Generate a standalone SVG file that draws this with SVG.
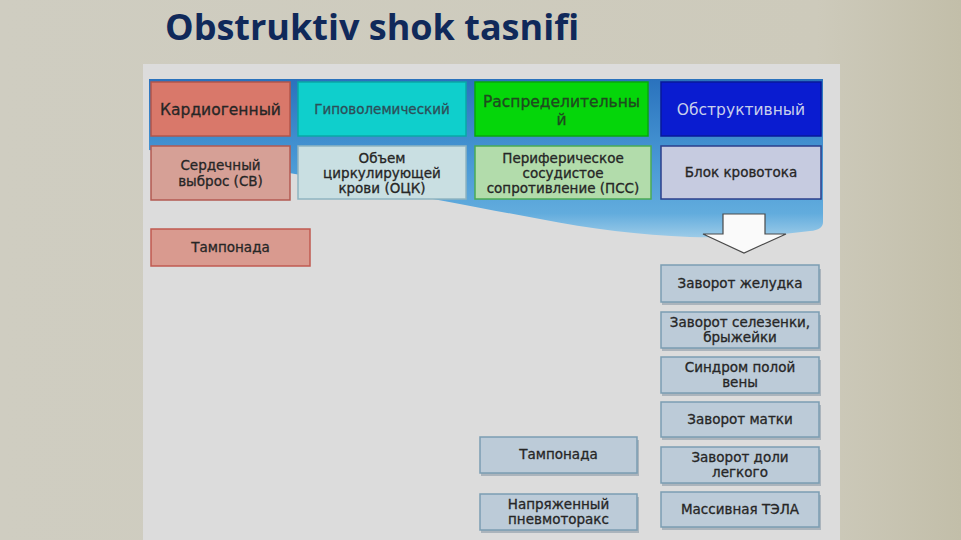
<svg xmlns="http://www.w3.org/2000/svg" width="961" height="540" viewBox="0 0 961 540">
<style>
.t{font-family:"DejaVu Sans","Liberation Sans",sans-serif;font-size:13.5px;fill:#262626;stroke:#262626;stroke-width:.3px;text-anchor:middle}
.h{font-size:15.5px}
.gb{fill:#bccbd8;stroke:#7b9db2;stroke-width:1.5}
.sh{fill:#8a9aa6;opacity:.6}
</style>
<defs>
<linearGradient id="bg" x1="0" y1="0" x2="1" y2="0">
<stop offset="0" stop-color="#cfcdc1"/><stop offset="0.85" stop-color="#cdcabb"/><stop offset="1" stop-color="#c2bea9"/>
</linearGradient>
<linearGradient id="wave" x1="0" y1="0" x2="0" y2="1">
<stop offset="0" stop-color="#2a72bd"/><stop offset="0.55" stop-color="#4a9ad6"/><stop offset="0.85" stop-color="#62acdd"/><stop offset="1" stop-color="#9ccbe8"/>
</linearGradient>
</defs>
<rect width="961" height="540" fill="url(#bg)"/>
<rect x="143" y="64" width="697" height="476" fill="#dcdcdc"/>
<text x="165" y="40" font-family="'Open Sans','Liberation Sans',sans-serif" font-weight="bold" font-size="36" fill="#10295a">Obstruktiv shok tasnifi</text>
<path d="M149,79 H823 V222 Q823,230 810,231 C770,236 730,238 690,237 C640,235 590,229 540,219 C490,210 440,200 380,189 C300,175 220,160 149,150 Z" fill="url(#wave)"/>
<g id="n-kardio"><rect x="151" y="82" width="139" height="54" fill="#d9786a" stroke="#b3564b" stroke-width="1.5"/><text class="t h" x="220.5" y="115">Кардиогенный</text></g>
<g id="n-gipo"><rect x="298" y="82" width="168" height="54" fill="#0fcfcc" stroke="#0aa8a6" stroke-width="1.5"/><text class="t" x="382" y="114" style="fill:#2d4e58;stroke:#2d4e58">Гиповолемический</text></g>
<g id="n-raspr"><rect x="475" y="82" width="173" height="54" fill="#05d60a" stroke="#08a80b" stroke-width="1.5"/><text class="t h" x="561.5" y="107" style="fill:#1f4a1f;stroke:#1f4a1f">Распределительны</text><text class="t h" x="561.5" y="125" style="fill:#1f4a1f;stroke:#1f4a1f">й</text></g>
<g id="n-obstr"><rect x="661" y="82" width="160" height="54" fill="#0a1cd0" stroke="#08189a" stroke-width="1.5"/><text class="t h" x="741" y="115" style="fill:#c9d0ec;stroke:none">Обструктивный</text></g>
<g id="n-sv"><rect x="151" y="146" width="139" height="54" fill="#d6a096" stroke="#b35a52" stroke-width="1.5"/><text class="t" x="220.5" y="170">Сердечный</text><text class="t" x="220.5" y="186">выброс (СВ)</text></g>
<g id="n-ock"><rect x="298" y="146" width="168" height="53" fill="#c9dfe2" stroke="#8fb4c0" stroke-width="1.5"/><text class="t" x="382" y="163">Объем</text><text class="t" x="382" y="178">циркулирующей</text><text class="t" x="382" y="193">крови (ОЦК)</text></g>
<g id="n-pss"><rect x="475" y="146" width="176" height="53" fill="#b2dcab" stroke="#4aaa55" stroke-width="1.5"/><text class="t" x="563" y="163">Периферическое</text><text class="t" x="563" y="178">сосудистое</text><text class="t" x="563" y="193">сопротивление (ПСС)</text></g>
<g id="n-blok"><rect x="661" y="146" width="160" height="53" fill="#c6cbe0" stroke="#2b3f8c" stroke-width="1.5"/><text class="t" x="741" y="177">Блок кровотока</text></g>
<g id="n-tamp1"><rect x="151" y="229" width="159" height="37" fill="#d99a8f" stroke="#c05a50" stroke-width="1.5"/><text class="t" x="230.5" y="252">Тампонада</text></g>
<g id="connectors"><path d="M723,214 H765 V234 H786 L744,253 L703,234 H723 Z" fill="#fafafa" stroke="#4a4a4a" stroke-width="1.2"/></g>
<g id="n-zh"><rect class="sh" x="662" y="269" width="159" height="36"/><rect class="gb" x="661" y="265" width="158" height="37"/><text class="t" x="740" y="288">Заворот желудка</text></g>
<g id="n-sel"><rect class="sh" x="662" y="315" width="159" height="36"/><rect class="gb" x="661" y="312" width="158" height="36"/><text class="t" x="740" y="327">Заворот селезенки,</text><text class="t" x="740" y="342">брыжейки</text></g>
<g id="n-sin"><rect class="sh" x="662" y="360" width="159" height="36"/><rect class="gb" x="661" y="357" width="158" height="36"/><text class="t" x="740" y="372">Синдром полой</text><text class="t" x="740" y="387">вены</text></g>
<g id="n-mat"><rect class="sh" x="662" y="405" width="159" height="35"/><rect class="gb" x="661" y="402" width="158" height="35"/><text class="t" x="740" y="424">Заворот матки</text></g>
<g id="n-dol"><rect class="sh" x="662" y="450" width="159" height="36"/><rect class="gb" x="661" y="447" width="158" height="36"/><text class="t" x="740" y="462">Заворот доли</text><text class="t" x="740" y="477">легкого</text></g>
<g id="n-tela"><rect class="sh" x="662" y="495" width="159" height="35"/><rect class="gb" x="661" y="492" width="158" height="35"/><text class="t" x="740" y="514">Массивная ТЭЛА</text></g>
<g id="n-tamp2"><rect class="sh" x="481" y="440" width="158" height="36"/><rect class="gb" x="480" y="437" width="157" height="36"/><text class="t" x="558.5" y="459">Тампонада</text></g>
<g id="n-pnev"><rect class="sh" x="481" y="497" width="158" height="36"/><rect class="gb" x="480" y="494" width="157" height="36"/><text class="t" x="558.5" y="509">Напряженный</text><text class="t" x="558.5" y="524">пневмоторакс</text></g>
</svg>
